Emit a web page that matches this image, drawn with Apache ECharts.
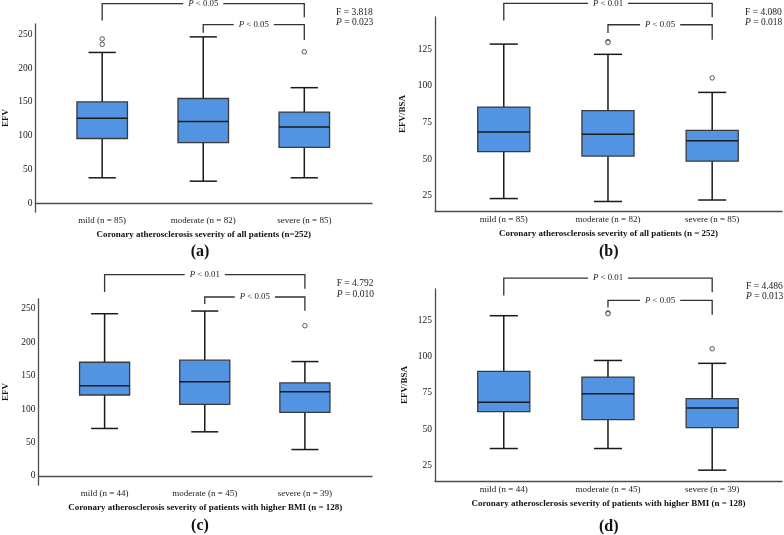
<!DOCTYPE html>
<html>
<head>
<meta charset="utf-8">
<script src="https://cdn.jsdelivr.net/npm/echarts@6/dist/echarts.min.js"></script>
<style>
  html, body { margin: 0; padding: 0; background: #fff; }
  #chart { width: 784px; height: 535px; }
</style>
</head>
<body>
<div id="chart"></div>
<script>
// group names and sample sizes
const groups = ['mild', 'moderate', 'severe'];
const nAll = [85, 82, 85];
const nBmi = [44, 45, 39];

// box stats per group: [min, Q1, median, Q3, max]
const boxA = [[38, 96, 126, 150, 223], [33, 90, 121, 155, 246], [38, 83, 113, 135, 171]];
const boxB = [[23, 55, 68.5, 85.5, 128.5], [21, 52, 67, 83, 121.5], [22, 48.5, 62.5, 69.5, 95.5]];
const boxC = [[71, 121, 135, 170, 242.5], [66, 107, 141, 173, 246.5], [39.5, 95, 126, 139, 171]];
const boxD = [[36.5, 62, 68.5, 90, 128.5], [36.5, 56.5, 74.5, 86, 97.5], [21.5, 51, 64.5, 71, 95.5]];

// outliers per group
const outA = [[243, 235], [], [224]];
const outB = [[], [130.2, 129.6], [105.4]];
const outC = [[], [], [224.5]];
const outD = [[], [130.5, 129.9], [105.6]];

// y ticks
const ticksEfv = [0, 50, 100, 150, 200, 250];
const ticksBsa = [25, 50, 75, 100, 125];

// F test text
const fA = ['F = 3.818', '0.023'];
const fB = ['F = 4.080', '0.018'];
const fC = ['F = 4.792', '0.010'];
const fD = ['F = 4.486', '0.013'];

// pairwise comparisons: [from group, to group, label]
const pairsA = [[1, 3, '< 0.05'], [2, 3, '< 0.05']];
const pairsB = [[1, 3, '< 0.01'], [2, 3, '< 0.05']];
const pairsC = [[1, 3, '< 0.01'], [2, 3, '< 0.05']];
const pairsD = [[1, 3, '< 0.01'], [2, 3, '< 0.05']];

const FONT = '"Liberation Serif", "DejaVu Serif", serif';
const BOX_FILL = '#5294e2';

// bracket heights in axis units: [top, left leg end, right leg end]
const bracketLevels = {
  a: [[295, 270, 275], [264, 252, 241.5]],
  b: [[156.3, 144.6, 146.9], [141.7, 136, 131.4]],
  c: [[301, 275, 280], [267.5, 257, 247]],
  d: [[154.5, 142.5, 144.8], [139.1, 134.2, 129.1]]
};

const panels = [
  {key: 'a', box: boxA, out: outA, n: nAll, ticks: ticksEfv, ymin: -12.5, ymax: 265, yname: 'EFV', ygap: 25.5,
   xname: 'Coronary atherosclerosis severity of all patients (n=252)', pairs: pairsA, f: fA,
   grid: {left: 34, top: 24, width: 338, height: 188}, letter: [200, 252], ftext: [336, 12]},
  {key: 'b', box: boxB, out: outB, n: nAll, ticks: ticksBsa, ymin: 14.5, ymax: 147, yname: 'EFV/BSA', ygap: 28,
   xname: 'Coronary atherosclerosis severity of all patients (n = 252)', pairs: pairsB, f: fB,
   grid: {left: 435, top: 17, width: 347, height: 194}, letter: [608.7, 252.3], ftext: [745, 12.3]},
  {key: 'c', box: boxC, out: outC, n: nBmi, ticks: ticksEfv, ymin: -13.5, ymax: 264.5, yname: 'EFV', ygap: 28.5,
   xname: 'Coronary atherosclerosis severity of patients with higher BMI (n = 128)', pairs: pairsC, f: fC,
   grid: {left: 38, top: 299, width: 334, height: 186}, letter: [200, 526.3], ftext: [336.7, 283.7]},
  {key: 'd', box: boxD, out: outD, n: nBmi, ticks: ticksBsa, ymin: 14, ymax: 147, yname: 'EFV/BSA', ygap: 25.5,
   xname: 'Coronary atherosclerosis severity of patients with higher BMI (n = 128)', pairs: pairsD, f: fD,
   grid: {left: 435, top: 289, width: 347, height: 192}, letter: [608.7, 527.3], ftext: [746, 286.3]}
];

function renderBox(params, api) {
  const x = api.value(0);
  const unit = api.size([1, 0])[0];
  const half = unit * 0.25, cap = unit * 0.135;
  const p = k => api.coord([x, api.value(k)]);
  const lo = p(1), q1 = p(2), md = p(3), q3 = p(4), hi = p(5);
  const cx = lo[0];
  const ws = {stroke: '#1a1a1a', lineWidth: 1.5};
  return {
    type: 'group',
    children: [
      {type: 'line', shape: {x1: cx, y1: hi[1], x2: cx, y2: q3[1]}, style: ws},
      {type: 'line', shape: {x1: cx, y1: q1[1], x2: cx, y2: lo[1]}, style: ws},
      {type: 'line', shape: {x1: cx - cap, y1: hi[1], x2: cx + cap, y2: hi[1]}, style: ws},
      {type: 'line', shape: {x1: cx - cap, y1: lo[1], x2: cx + cap, y2: lo[1]}, style: ws},
      {type: 'rect', shape: {x: cx - half, y: q3[1], width: half * 2, height: q1[1] - q3[1]},
       style: {fill: BOX_FILL, stroke: '#3a3a3a', lineWidth: 1.3}},
      {type: 'line', shape: {x1: cx - half, y1: md[1], x2: cx + half, y2: md[1]}, style: {stroke: '#1a1a1a', lineWidth: 1.5}}
    ]
  };
}

function makeBracketRenderer(labels) {
  return function (params, api) {
    const x1 = api.value(0), x2 = api.value(1);
    const a = api.coord([x1, api.value(2)]);
    const b = api.coord([x2, api.value(2)]);
    const la = api.coord([x1, api.value(3)]);
    const rb = api.coord([x2, api.value(4)]);
    return {
      type: 'group',
      children: [
        {type: 'polyline', shape: {points: [la, a, b, rb]},
         style: {stroke: '#333', lineWidth: 1.3, fill: null}},
        {type: 'text', x: (a[0] + b[0]) / 2, y: a[1],
         style: {
           text: '{i|P}{n| ' + labels[params.dataIndex] + '}',
           align: 'center', verticalAlign: 'middle',
           backgroundColor: '#fff', padding: [1, 5],
           rich: {
             i: {fontFamily: FONT, fontSize: 8.8, fontStyle: 'italic', fill: '#222'},
             n: {fontFamily: FONT, fontSize: 8.8, fill: '#222'}
           }
         }}
      ]
    };
  };
}

const option = {
  animation: false,
  backgroundColor: '#fff',
  grid: [], xAxis: [], yAxis: [], series: [], graphic: []
};

panels.forEach((pn, i) => {
  const labels = groups.map((g, j) => g + ' (n = ' + pn.n[j] + ')');
  option.grid.push(pn.grid);
  option.xAxis.push({
    type: 'value', gridIndex: i, min: 0.34, max: 3.67,
    axisLine: {show: true, lineStyle: {color: '#4d4d4d', width: 1.3}},
    axisTick: {show: false},
    splitLine: {show: false},
    axisLabel: {
      customValues: [1, 2, 3], margin: 4,
      formatter: v => labels[Math.round(v) - 1] || '',
      fontFamily: FONT, fontSize: 9, color: '#1a1a1a'
    },
    name: pn.xname, nameLocation: 'middle', nameGap: 18.5,
    nameTextStyle: {fontFamily: FONT, fontSize: 9, fontWeight: 'bold', color: '#111'}
  });
  option.yAxis.push({
    type: 'value', gridIndex: i, min: pn.ymin, max: pn.ymax,
    axisLine: {show: true, lineStyle: {color: '#4d4d4d', width: 1.3}},
    axisTick: {show: false},
    splitLine: {show: false},
    axisLabel: {customValues: pn.ticks, margin: 3, fontFamily: FONT, fontSize: 9.5, color: '#1a1a1a'},
    name: pn.yname, nameLocation: 'middle', nameGap: pn.ygap, nameRotate: 90,
    nameTextStyle: {fontFamily: FONT, fontSize: 9, fontWeight: 'bold', color: '#111'}
  });

  option.series.push({
    type: 'custom', xAxisIndex: i, yAxisIndex: i,
    renderItem: renderBox,
    encode: {x: 0, y: [1, 2, 3, 4, 5]},
    data: pn.box.map((s, j) => [j + 1].concat(s)),
    clip: false, silent: true
  });

  const outliers = [];
  pn.out.forEach((vals, j) => vals.forEach(v => outliers.push([j + 1, v])));
  option.series.push({
    type: 'scatter', xAxisIndex: i, yAxisIndex: i,
    symbol: 'circle', symbolSize: 4.5,
    itemStyle: {color: '#fff', borderColor: '#555', borderWidth: 1, opacity: 1},
    data: outliers, silent: true
  });

  const lv = bracketLevels[pn.key];
  option.series.push({
    type: 'custom', xAxisIndex: i, yAxisIndex: i,
    renderItem: makeBracketRenderer(pn.pairs.map(p => p[2])),
    encode: {x: [0, 1], y: [2, 3, 4]},
    data: pn.pairs.map((p, k) => [p[0], p[1]].concat(lv[k])),
    clip: false, silent: true, z: 5
  });

  option.graphic.push({
    type: 'text', x: pn.letter[0], y: pn.letter[1],
    style: {text: '(' + pn.key + ')', fontFamily: FONT, fontSize: 16, fontWeight: 'bold',
            fill: '#111', align: 'center', verticalAlign: 'middle'}
  });
  option.graphic.push({
    type: 'text', x: pn.ftext[0], y: pn.ftext[1] - 5.25,
    style: {
      text: '{n|' + pn.f[0] + '}\n{i|P}{n| = ' + pn.f[1] + '}',
      align: 'left', verticalAlign: 'top',
      rich: {
        n: {fontFamily: FONT, fontSize: 9.5, fill: '#222', lineHeight: 10.5},
        i: {fontFamily: FONT, fontSize: 9.5, fontStyle: 'italic', fill: '#222', lineHeight: 10.5}
      }
    }
  });
});

const chart = echarts.init(document.getElementById('chart'));
chart.setOption(option);
</script>
</body>
</html>
